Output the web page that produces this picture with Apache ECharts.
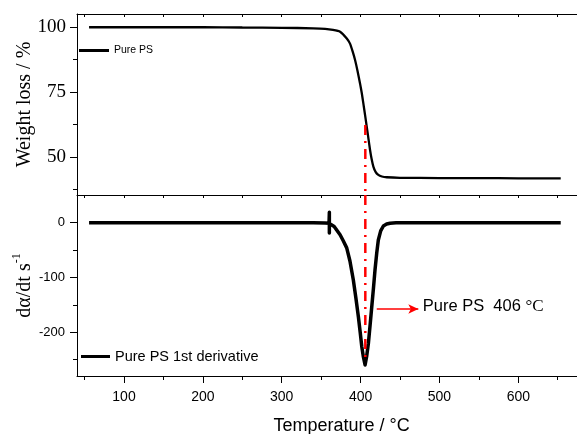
<!DOCTYPE html>
<html>
<head>
<meta charset="utf-8">
<script src="https://cdn.jsdelivr.net/npm/echarts@6/dist/echarts.min.js"></script>
<style>html,body{margin:0;padding:0;background:#fff;}#c{width:577px;height:434px;}</style>
</head>
<body>
<div id="c"></div>
<script>
// ---- data ----
const tgTemp = [55.7, 100, 150, 200, 250, 300, 340, 355, 365, 374, 382.5, 386.6, 390, 393, 396, 399.3, 401.5, 403.5, 405.7, 407.8, 410, 412, 414, 416.2, 419, 422.5, 427, 433.2, 450, 500, 550, 600, 653.8];
const tgValue = [99.9, 99.9, 99.9, 99.9, 99.8, 99.7, 99.5, 99.3, 98.9, 98.2, 95.6, 93.6, 90.5, 87.3, 83.3, 78.3, 74.6, 70.6, 66.1, 61.7, 57.0, 52.7, 49.2, 46.3, 44.3, 43.1, 42.5, 42.2, 42.0, 41.9, 41.9, 41.8, 41.8];

const dtgTemp = [55.7, 100, 150, 200, 250, 300, 340, 355, 360, 360.4, 360.4, 360.4, 361, 366.5, 374, 378, 382.4, 386.5, 390.8, 394, 397.2, 399.5, 401.5, 403.5, 405.7, 407.8, 409.9, 412, 414.2, 416.3, 418.3, 420.5, 422.5, 425.5, 428.9, 433, 437.4, 445, 500, 550, 600, 653.8];
const dtgValue = [0, 0, 0, 0, 0, 0, 0, -0.5, -1, 19, -19, -1.5, -2, -7, -22, -33, -46, -70, -104.6, -137, -171.5, -200, -226, -244.5, -259.7, -243, -220, -188, -153, -120, -86, -55, -31.6, -15, -6, -2.5, -1, -0.3, 0, 0, 0, 0];

const peakTemp = 406;
const peakLineTop = [62.3, 35.38];      // weight-loss panel span of the red line
const peakLineBottom = [50.5, -245];    // derivative panel span of the red line
const arrowStart = [420.5, -157.5];
const arrowEnd = [473.2, -157.5];
const annotationAt = [478.2, -153.3];

const tempTicks = [100, 200, 300, 400, 500, 600, 700];
const tempMinorTicks = [50, 150, 250, 350, 450, 550, 650];
const tempAllTicks = [50, 100, 150, 200, 250, 300, 350, 400, 450, 500, 550, 600, 650, 700];
const wtTicks = [50, 75, 100];
const wtMinorTicks = [37.5, 62.5, 87.5];
const dtgTicks = [-200, -100, 0];
const dtgMinorTicks = [-250, -150, -50];

const xRange = [40.4, 711.2];
const wtRange = [35.38, 105];
const dtgRange = [-279.8, 50.5];

const zip = (a, b) => a.map((v, i) => [v, b[i]]);

const chart = echarts.init(document.getElementById('c'), null, {renderer: 'canvas'});
const black = '#000';
const sans = 'Liberation Sans';
const serif = 'Liberation Serif';

const hidden = {show: false};

chart.setOption({
  animation: false,
  backgroundColor: '#fff',
  grid: [
    {left: 77, right: -29, top: 14, height: 181, outerBoundsMode: 'none', containLabel: false},
    {left: 77, right: -29, top: 195, height: 181, outerBoundsMode: 'none', containLabel: false}
  ],
  legend: [
    {data: ['Pure PS'], left: 79, top: 45, padding: 0, icon: 'rect', itemWidth: 30, itemHeight: 3, itemGap: 0,
     textStyle: {fontFamily: sans, fontSize: 10.5, color: black}},
    {data: ['Pure PS 1st derivative'], left: 81, top: 349, padding: 0, icon: 'rect', itemWidth: 29, itemHeight: 3,
     textStyle: {fontFamily: sans, fontSize: 14.5, color: black}}
  ],
  xAxis: [
    {type: 'value', gridIndex: 0, position: 'top', min: xRange[0], max: xRange[1],
     axisLine: {show: true, lineStyle: {color: black, width: 1}},
     axisTick: {show: true, inside: true, length: 3, customValues: tempAllTicks, lineStyle: {color: black}},
     axisLabel: hidden, splitLine: hidden},
    {type: 'value', gridIndex: 0, position: 'bottom', min: xRange[0], max: xRange[1],
     axisLine: {show: true, onZero: false, lineStyle: {color: black, width: 1}},
     axisTick: {show: true, length: 3, customValues: tempAllTicks, lineStyle: {color: black}},
     axisLabel: hidden, splitLine: hidden},
    {type: 'value', gridIndex: 1, position: 'bottom', min: xRange[0], max: xRange[1],
     name: 'Temperature / °C', nameLocation: 'middle', nameGap: 41, nameMoveOverlap: false,
     nameTextStyle: {fontFamily: sans, fontSize: 18, color: black},
     axisLine: {show: true, onZero: false, lineStyle: {color: black, width: 1}},
     axisTick: {show: true, length: 7, customValues: tempTicks, lineStyle: {color: black}},
     axisLabel: {show: true, customValues: tempTicks.filter(v => v <= 600), margin: 14, fontFamily: sans, fontSize: 14, color: black},
     splitLine: hidden},
    {type: 'value', gridIndex: 1, position: 'bottom', min: xRange[0], max: xRange[1],
     axisLine: {show: false, onZero: false},
     axisTick: {show: true, length: 4, customValues: tempMinorTicks, lineStyle: {color: black}},
     axisLabel: hidden, splitLine: hidden}
  ],
  yAxis: [
    {type: 'value', gridIndex: 0, position: 'left', min: wtRange[0], max: wtRange[1],
     name: 'Weight loss / %', nameLocation: 'middle', nameGap: 42, nameRotate: 90, nameMoveOverlap: false,
     nameTextStyle: {fontFamily: serif, fontSize: 20, color: black},
     axisLine: {show: true, onZero: false, lineStyle: {color: black, width: 1}},
     axisTick: {show: true, length: 7, customValues: wtTicks, lineStyle: {color: black}},
     axisLabel: {show: true, customValues: wtTicks, margin: 11, fontFamily: serif, fontSize: 19, color: black},
     splitLine: hidden},
    {type: 'value', gridIndex: 0, position: 'left', min: wtRange[0], max: wtRange[1],
     axisLine: {show: false, onZero: false},
     axisTick: {show: true, length: 4, customValues: wtMinorTicks, lineStyle: {color: black}},
     axisLabel: hidden, splitLine: hidden},
    {type: 'value', gridIndex: 1, position: 'left', min: dtgRange[0], max: dtgRange[1],
     name: '{m|dα/dt s}{s|-1}', nameLocation: 'middle', nameGap: 42, nameRotate: 90, nameMoveOverlap: false,
     nameTextStyle: {color: black, rich: {
       m: {fontFamily: serif, fontSize: 20, color: black, lineHeight: 24, verticalAlign: 'bottom'},
       s: {fontFamily: serif, fontSize: 12, color: black, lineHeight: 24, verticalAlign: 'top'}
     }},
     axisLine: {show: true, onZero: false, lineStyle: {color: black, width: 1}},
     axisTick: {show: true, length: 7, customValues: dtgTicks, lineStyle: {color: black}},
     axisLabel: {show: true, customValues: dtgTicks, margin: 12, fontFamily: sans, fontSize: 13, color: black},
     splitLine: hidden},
    {type: 'value', gridIndex: 1, position: 'left', min: dtgRange[0], max: dtgRange[1],
     axisLine: {show: false, onZero: false},
     axisTick: {show: true, length: 4, customValues: dtgMinorTicks, lineStyle: {color: black}},
     axisLabel: hidden, splitLine: hidden}
  ],
  series: [
    {name: 'Pure PS', type: 'line', xAxisIndex: 1, yAxisIndex: 0, data: zip(tgTemp, tgValue),
     showSymbol: false, symbol: 'none', smooth: 0.15, color: black,
     lineStyle: {color: black, width: 2.3}},
    {name: 'Pure PS 1st derivative', type: 'line', xAxisIndex: 2, yAxisIndex: 2, data: zip(dtgTemp, dtgValue),
     showSymbol: false, symbol: 'none', smooth: false, color: black,
     lineStyle: {color: black, width: 3.5, join: 'round'}},
    {name: 'peak-top', type: 'line', xAxisIndex: 1, yAxisIndex: 0, z: 5, silent: true,
     data: peakLineTop.map(v => [peakTemp, v]), symbol: 'none', color: '#ff0000',
     lineStyle: {color: '#ff0000', width: 2.5, type: [10, 6, 2, 6]}},
    {name: 'peak-bottom', type: 'line', xAxisIndex: 2, yAxisIndex: 2, z: 5, silent: true,
     data: peakLineBottom.map(v => [peakTemp, v]), symbol: 'none', color: '#ff0000',
     lineStyle: {color: '#ff0000', width: 2.5, type: [10, 6, 2, 6]},
     markLine: {silent: true, symbol: ['none', 'arrow'], symbolSize: [7, 10],
       lineStyle: {color: '#ff0000', width: 1.5, type: 'solid'}, label: {show: false},
       data: [[{coord: arrowStart}, {coord: arrowEnd}]]},
     markPoint: {silent: true, symbol: 'circle', symbolSize: 1, itemStyle: {color: 'rgba(0,0,0,0)'},
       label: {show: true, position: 'right', distance: 0,
         formatter: '{a|Pure PS  ' + peakTemp + ' }{b|°C}',
         rich: {a: {fontFamily: sans, fontSize: 16.5, color: black},
                b: {fontFamily: serif, fontSize: 17, color: black}}},
       data: [{coord: annotationAt}]}}
  ]
});
</script>
</body>
</html>
